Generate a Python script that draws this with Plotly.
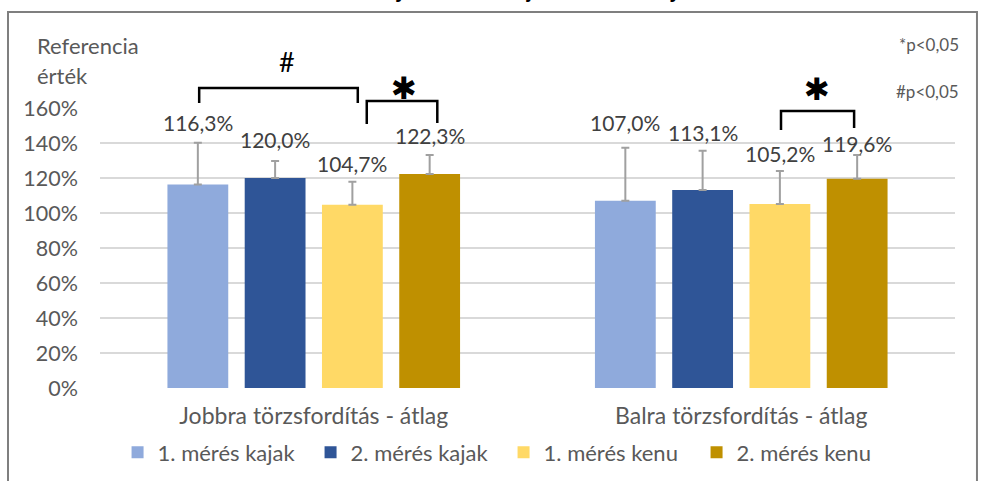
import plotly.graph_objects as go

categories = ["Jobbra törzsfordítás - átlag", "Balra törzsfordítás - átlag"]
series_names = ["1. mérés kajak", "2. mérés kajak", "1. mérés kenu", "2. mérés kenu"]
kajak_1 = [116.3, 107.0]
kajak_2 = [120.0, 113.1]
kenu_1 = [104.7, 105.2]
kenu_2 = [122.3, 119.6]
err_kajak_1 = [23.9, 30.3]
err_kajak_2 = [9.7, 22.5]
err_kenu_1 = [13.2, 18.8]
err_kenu_2 = [10.8, 13.5]
y_tick_values = [0, 20, 40, 60, 80, 100, 120, 140, 160]
y_tick_labels = ["0%", "20%", "40%", "60%", "80%", "100%", "120%", "140%", "160%"]
title_text = "Relatív nyomatékérték jobb és bal irányban"
y_title_lines = ["Referencia", "érték"]
note_star = "*p<0,05"
note_hash = "#p<0,05"

series_values = [kajak_1, kajak_2, kenu_1, kenu_2]
series_errors = [err_kajak_1, err_kajak_2, err_kenu_1, err_kenu_2]
colors = ["#8FAADC", "#2F5597", "#FFD966", "#BF9000"]
label_lift = [[20, 25], [22, 18], [18, 18], [20, 12]]

FONT = "Lato, 'Open Sans', sans-serif"
TXT = "#595959"
BARGAP = 0.277
Y_MAX = 160

fig = go.Figure()
for name, vals, errs, col in zip(series_names, series_values, series_errors, colors):
    fig.add_trace(go.Bar(
        x=categories, y=vals, name=name, marker=dict(color=col, line=dict(width=0)),
        error_y=dict(type="data", array=errs, symmetric=False, arrayminus=[0] * len(errs),
                     color="#A0A0A0", thickness=2, width=4),
    ))

slot = (1 - BARGAP) / len(series_names)
annotations = []
for j, (vals, errs) in enumerate(zip(series_values, series_errors)):
    for i, (v, e) in enumerate(zip(vals, errs)):
        xi = i + (j + 0.5 - len(series_names) / 2) * slot
        annotations.append(dict(
            x=xi, y=v + e, xref="x", yref="y", text=f"{v:.1f}%".replace(".", ","),
            showarrow=False, xanchor="center", yanchor="middle", yshift=label_lift[j][i],
            font=dict(family=FONT, size=21, color="#404040")))


def px(xi):
    return (xi + 0.5) / 2


def py(yv):
    return yv / Y_MAX


# significance brackets (category-index units, % units)
brackets = [
    (-0.268, 0.103, 171.4, 162.9, 162.9),
    (0.124, 0.289, 164.0, 150.9, 151.4),
    (1.093, 1.264, 158.3, 147.4, 148.6),
]
symbols = [("#", -0.063, 186.3, 27, "Lato, sans-serif"),
           ("✱", 0.212, 171.4, 31, "DejaVu Sans, sans-serif"),
           ("✱", 1.177, 170.9, 31, "DejaVu Sans, sans-serif")]
shapes = []
for x0, x1, yt, yl0, yl1 in brackets:
    shapes.append(dict(type="path", xref="paper", yref="paper",
                       path=f"M {px(x0)} {py(yl0)} L {px(x0)} {py(yt)} L {px(x1)} {py(yt)} L {px(x1)} {py(yl1)}",
                       line=dict(color="black", width=2.5)))
for s, xi, yv, size, fam in symbols:
    annotations.append(dict(x=px(xi), y=py(yv), xref="paper", yref="paper", text=s,
                            showarrow=False, xanchor="center", yanchor="middle",
                            font=dict(family=fam, size=size, color="black")))

# outer frame
shapes.append(dict(type="rect", xref="paper", yref="paper", x0=-0.1076, x1=1.0257,
                   y0=-0.4, y1=1.343, line=dict(color="#7F7F7F", width=2)))

annotations += [
    dict(x=-0.1076 + 27 / 855, y=1 + 62 / 280, xref="paper", yref="paper", text=y_title_lines[0],
         showarrow=False, xanchor="left", yanchor="middle", font=dict(family=FONT, size=22, color=TXT)),
    dict(x=-0.1076 + 27 / 855, y=1 + 33 / 280, xref="paper", yref="paper", text=y_title_lines[1],
         showarrow=False, xanchor="left", yanchor="middle", font=dict(family=FONT, size=22, color=TXT)),
    dict(x=1.0075, y=1 + 63 / 280, xref="paper", yref="paper", text=note_star, showarrow=False,
         xanchor="right", yanchor="middle", font=dict(family=FONT, size=17, color=TXT)),
    dict(x=1.0075, y=1 + 17 / 280, xref="paper", yref="paper", text=note_hash, showarrow=False,
         xanchor="right", yanchor="middle", font=dict(family=FONT, size=17, color=TXT)),
    dict(x=0.248, y=1.372, xref="paper", yref="paper", text=f"<b>{title_text}</b>", showarrow=False,
         xanchor="left", yanchor="bottom",
         font=dict(family="Liberation Sans, sans-serif", size=19.5, color="black")),
]

fig.update_layout(
    width=985, height=481,
    margin=dict(l=100, r=30, t=108, b=93, autoexpand=False),
    paper_bgcolor="white", plot_bgcolor="white",
    barmode="group", bargap=BARGAP, bargroupgap=0.213,
    font=dict(family=FONT, color=TXT, size=20),
    showlegend=True,
    legend=dict(orientation="h", x=0.472, xanchor="center", y=-0.155, yanchor="top",
                font=dict(family=FONT, size=22, color=TXT), entrywidth=148, itemwidth=30,
                bgcolor="rgba(0,0,0,0)"),
    xaxis=dict(type="category", range=[-0.5, 1.5], showline=False, showgrid=False, zeroline=False,
               ticks="", tickfont=dict(family=FONT, size=23, color=TXT), ticklabelstandoff=12),
    yaxis=dict(range=[0, Y_MAX], tickvals=y_tick_values, ticktext=y_tick_labels,
               showgrid=True, gridcolor="#D9D9D9", gridwidth=1.5, zeroline=False, showline=False,
               ticks="", tickfont=dict(family=FONT, size=21.5, color=TXT), ticklabelstandoff=21),
    shapes=shapes, annotations=annotations,
)

fig.write_html("out.html", config={"displayModeBar": False},
               post_script="document.body.style.margin='0';document.body.style.overflow='hidden';")
